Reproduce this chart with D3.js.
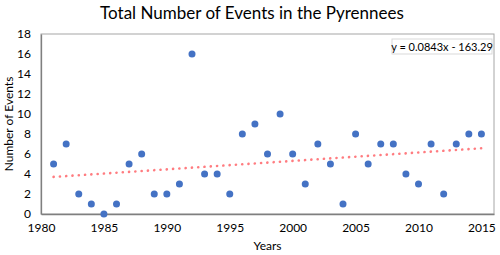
<!DOCTYPE html>
<html>
<head>
<meta charset="utf-8">
<script src="https://cdn.jsdelivr.net/npm/d3@7"></script>
<style>
  body { margin: 0; background: #fff; }
  text { font-family: Lato, "Open Sans", sans-serif; fill: #000; }
</style>
</head>
<body>
<div id="chart-area"></div>
<script>
// data
let years = [1981, 1982, 1983, 1984, 1985, 1986, 1987, 1988, 1989, 1990,
	1991, 1992, 1993, 1994, 1995, 1996, 1997, 1998, 1999, 2000,
	2001, 2002, 2003, 2004, 2005, 2006, 2007, 2008, 2009, 2010,
	2011, 2012, 2013, 2014, 2015];
let events = [5, 7, 2, 1, 0, 1, 5, 6, 2, 2,
	3, 16, 4, 4, 2, 8, 9, 6, 10, 6,
	3, 7, 5, 1, 8, 5, 7, 7, 4, 3,
	7, 2, 7, 8, 8];
let xTicks = [1980, 1985, 1990, 1995, 2000, 2005, 2010, 2015];
let yTicks = [0, 2, 4, 6, 8, 10, 12, 14, 16, 18];
let slope = 0.0843, intercept = -163.29;

let margin = {top: 34, right: 6, bottom: 41, left: 41};
let width = 500 - margin.left - margin.right;
let height = 255 - margin.top - margin.bottom;

let svg = d3.select("#chart-area").append("svg")
	.attr("width", 500)
	.attr("height", 255);

let g = svg.append("g")
	.attr("transform", "translate(" + margin.left + "," + margin.top + ")");

let x = d3.scaleLinear().domain([1980, 2016]).range([0, width]);
let y = d3.scaleLinear().domain([0, 18]).range([height, 0]);

// plot area border
g.append("rect")
	.attr("width", width)
	.attr("height", height)
	.attr("fill", "none")
	.attr("stroke", "#a6a6a6")
	.attr("stroke-width", 1);

// axes
let xAxis = d3.axisBottom(x).tickValues(xTicks).tickFormat(d3.format("d")).tickSize(0).tickPadding(9);
let yAxis = d3.axisLeft(y).tickValues(yTicks).tickSize(0).tickPadding(10);

let gx = g.append("g").attr("transform", "translate(0," + height + ")").call(xAxis);
let gy = g.append("g").call(yAxis);
[gx, gy].forEach(a => {
	a.select(".domain").attr("stroke", "#7f7f7f").attr("stroke-width", 1.3);
	a.selectAll("text").style("font-size", "12px").attr("fill", "#000");
});

// trendline
let trend = [years[0], years[years.length - 1]].map(v => ({x: v, y: slope * v + intercept}));
g.append("path")
	.datum(trend)
	.attr("fill", "none")
	.attr("stroke", "#ff7c80")
	.attr("stroke-width", 2.6)
	.attr("stroke-linecap", "round")
	.attr("stroke-dasharray", "0.1 6.2")
	.attr("d", d3.line().x(d => x(d.x)).y(d => y(d.y)));

// points
g.selectAll("circle")
	.data(years.map((v, i) => ({year: v, n: events[i]})))
	.enter()
	.append("circle")
	.attr("cx", d => x(d.year))
	.attr("cy", d => y(d.n))
	.attr("r", 3.5)
	.attr("fill", "#4472c4");

// equation label
let eq = g.append("g").attr("transform", "translate(" + (width - 102) + ",5)");
eq.append("rect")
	.attr("width", 100)
	.attr("height", 15)
	.attr("fill", "#fff")
	.attr("stroke", "#d9d9d9");
eq.append("text")
	.attr("x", 50)
	.attr("y", 11.5)
	.attr("text-anchor", "middle")
	.style("font-size", "11px")
	.text("y = 0.0843x - 163.29");

// title & axis titles
svg.append("text")
	.attr("x", 252)
	.attr("y", 19)
	.attr("text-anchor", "middle")
	.style("font-size", "17px")
	.text("Total Number of Events in the Pyrennees");

svg.append("text")
	.attr("x", margin.left + width / 2)
	.attr("y", 250)
	.attr("text-anchor", "middle")
	.style("font-size", "12px")
	.text("Years");

svg.append("text")
	.attr("transform", "translate(13," + (margin.top + height / 2) + ") rotate(-90)")
	.attr("text-anchor", "middle")
	.style("font-size", "12px")
	.text("Number of Events");
</script>
</body>
</html>
